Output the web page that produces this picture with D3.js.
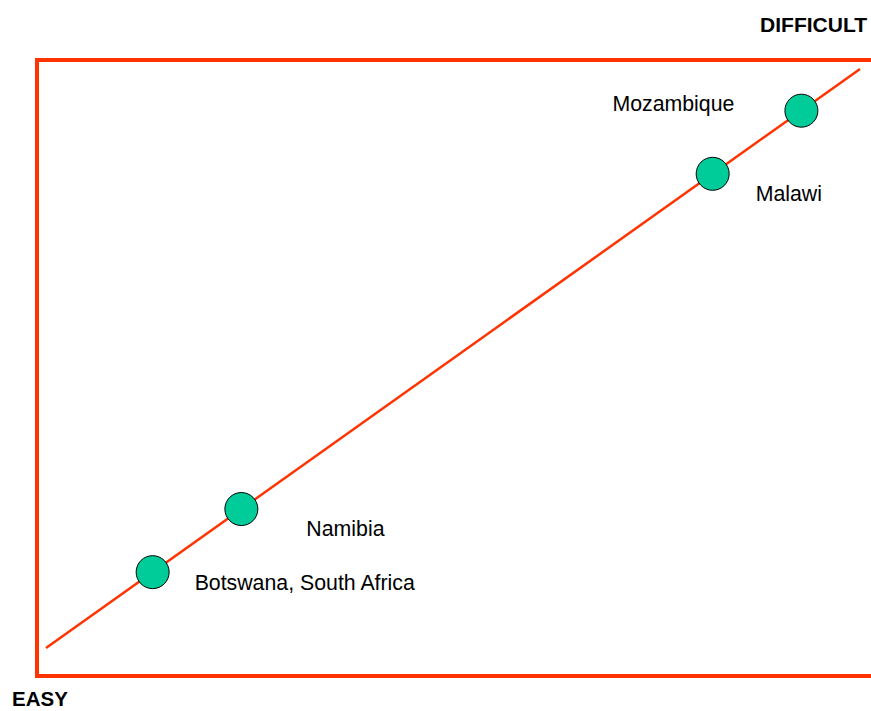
<!DOCTYPE html>
<html>
<head>
<meta charset="utf-8">
<script src="https://cdn.jsdelivr.net/npm/d3@7"></script>
<style>
  html, body { margin: 0; padding: 0; background: #fff; }
  svg { display: block; }
  text { font-family: "Liberation Sans", Arial, sans-serif; }
</style>
</head>
<body>
<script>
// Data
const countries = ["Botswana, South Africa", "Namibia", "Malawi", "Mozambique"];
const difficulty = [13.1, 24.0, 81.9, 92.8];
const axisEnds = ["EASY", "DIFFICULT"];
const scaleDomain = [0, 100];

const W = 871, H = 711;
const red = "#FF3300", green = "#00CC99";

const svg = d3.select("body").append("svg").attr("width", W).attr("height", H);

// Frame (right edge runs off the page)
svg.append("rect")
  .attr("x", 37).attr("y", 60)
  .attr("width", 840).attr("height", 616)
  .attr("fill", "none").attr("stroke", red).attr("stroke-width", 4);

const x = d3.scaleLinear().domain(scaleDomain).range([46, 860]);
const y = d3.scaleLinear().domain(scaleDomain).range([648, 69]);

// Diagonal line
svg.append("line")
  .attr("x1", x(scaleDomain[0])).attr("y1", y(scaleDomain[0]))
  .attr("x2", x(scaleDomain[1])).attr("y2", y(scaleDomain[1]))
  .attr("stroke", red).attr("stroke-width", 2.5);

const data = countries.map((c, i) => ({ name: c, v: difficulty[i] }));

svg.selectAll("circle.pt").data(data).enter().append("circle")
  .attr("class", "pt")
  .attr("cx", d => x(d.v)).attr("cy", d => y(d.v))
  .attr("r", 16.5)
  .attr("fill", green).attr("stroke", "#000").attr("stroke-width", 1);

// Label placement relative to each point (layout, not data)
const labelPlace = [
  { dx: 42, dy: 18, anchor: "start" },
  { dx: 65, dy: 27, anchor: "start" },
  { dx: 43, dy: 27, anchor: "start" },
  { dx: -67, dy: 0, anchor: "end" }
];

svg.selectAll("text.lbl").data(data).enter().append("text")
  .attr("class", "lbl")
  .attr("x", (d, i) => x(d.v) + labelPlace[i].dx)
  .attr("y", (d, i) => y(d.v) + labelPlace[i].dy)
  .attr("text-anchor", (d, i) => labelPlace[i].anchor)
  .attr("font-size", 21.3)
  .attr("fill", "#000")
  .text(d => d.name);

// Ends
svg.append("text").attr("x", 12).attr("y", 706)
  .attr("font-size", 20.5).attr("font-weight", "bold").text(axisEnds[0]);
svg.append("text").attr("x", 867).attr("y", 32).attr("text-anchor", "end")
  .attr("font-size", 21).attr("font-weight", "bold").text(axisEnds[1]);
</script>
</body>
</html>
